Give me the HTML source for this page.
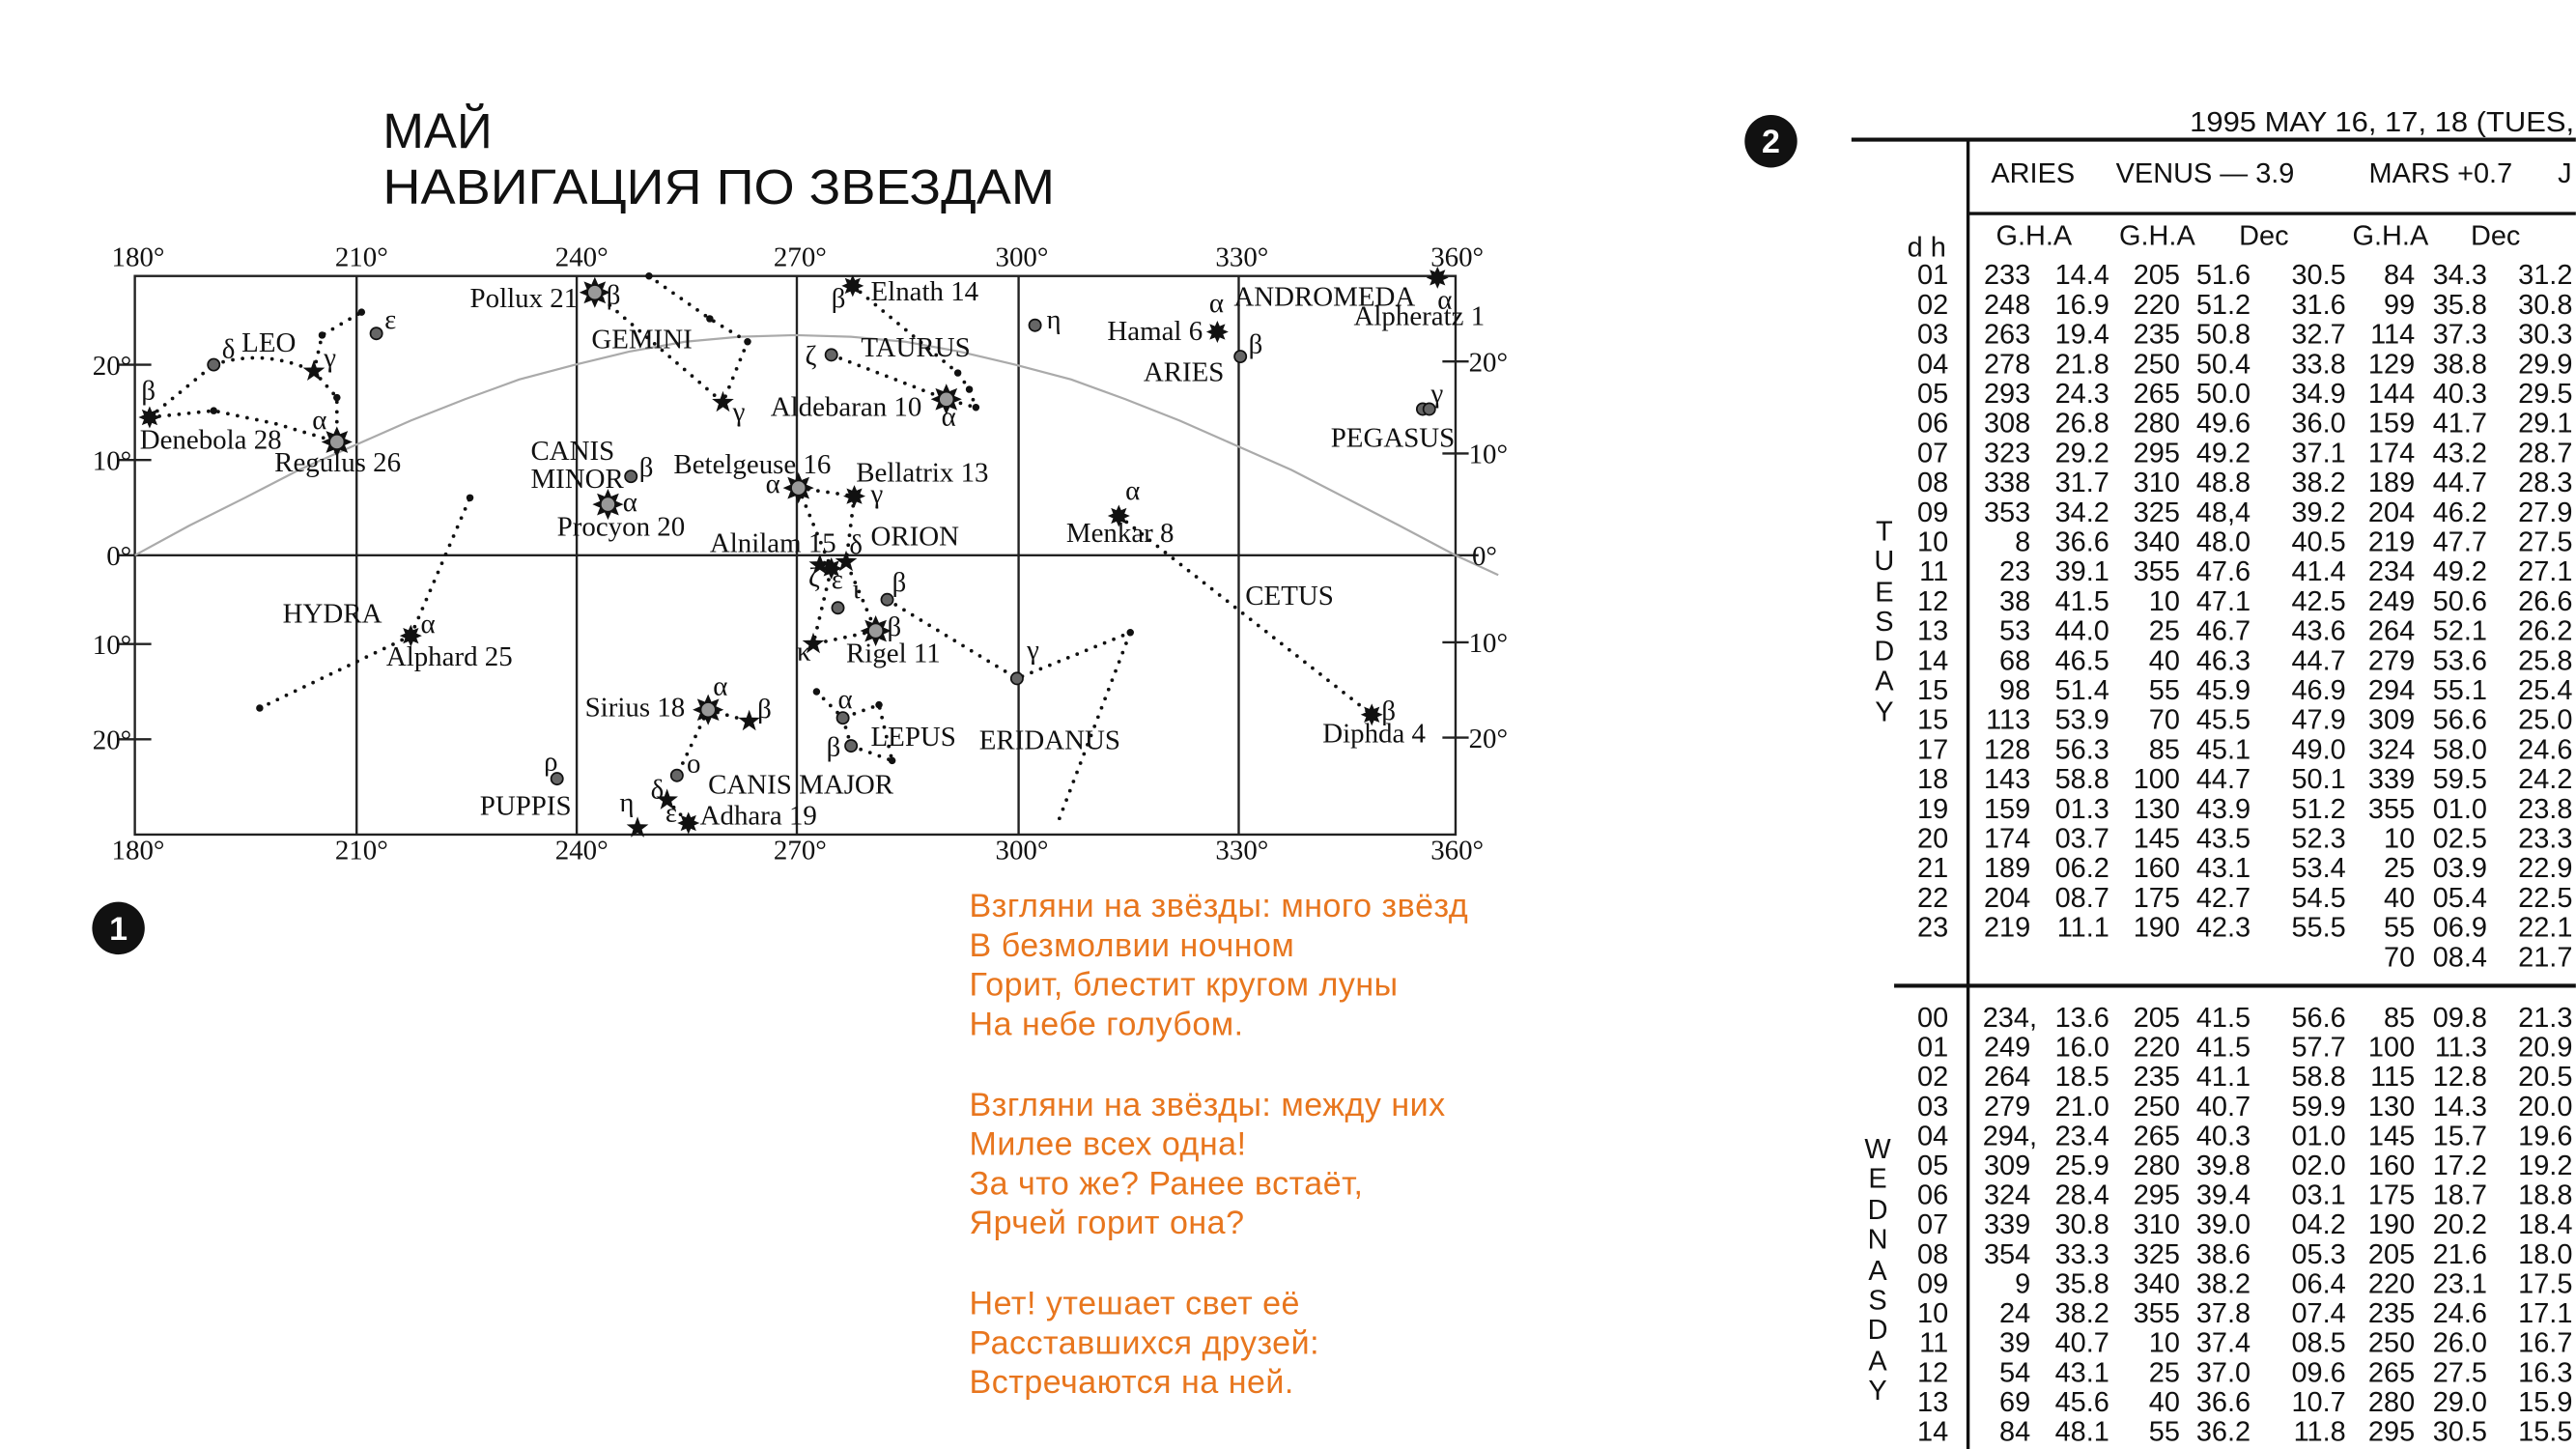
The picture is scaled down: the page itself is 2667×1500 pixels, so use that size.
<!DOCTYPE html>
<html><head><meta charset="utf-8"><style>
html,body{margin:0;padding:0;background:#fff;width:2667px;height:1500px;overflow:hidden}
svg{display:block}
.s{font-family:"Liberation Serif",serif;font-size:17px;fill:#111}
.t{font-family:"Liberation Sans","Noto Sans CJK SC",sans-serif;fill:#111}
.tb{font-family:"Liberation Sans",sans-serif;font-size:17px;fill:#111}
.p{font-family:"Liberation Sans","Noto Sans CJK SC",sans-serif;font-size:20px;letter-spacing:0.3px;fill:#E8761E}
.d{fill:none;stroke:#111;stroke-width:2.2;stroke-dasharray:0 6;stroke-linecap:round}
</style></head><body>
<svg width="2667" height="1500" viewBox="0 0 1568 882" xmlns="http://www.w3.org/2000/svg">
<defs>
<polygon id="s8" points="0,-9 1.91,-4.62 6.36,-6.36 4.62,-1.91 9,0 4.62,1.91 6.36,6.36 1.91,4.62 0,9 -1.91,4.62 -6.36,6.36 -4.62,1.91 -9,0 -4.62,-1.91 -6.36,-6.36 -1.91,-4.62"/>
<g id="big"><use href="#s8" fill="#111" transform="scale(1.05)"/><circle r="4" fill="#999"/></g>
<g id="blk"><use href="#s8" fill="#111" transform="scale(0.75)"/></g>
<polygon id="s5" fill="#111" points="0,-7 1.65,-2.27 6.66,-2.16 2.66,0.87 4.11,5.66 0,2.8 -4.11,5.66 -2.66,0.87 -6.66,-2.16 -1.65,-2.27"/>
<circle id="gd" r="3.6" fill="#666" stroke="#111" stroke-width="1"/>
<circle id="sd" r="2.2" fill="#111"/>
</defs>

<text class="t" x="233" y="90" font-size="30">МАЙ</text>
<text class="t" x="233" y="124" font-size="30" textLength="409" lengthAdjust="spacingAndGlyphs">НАВИГАЦИЯ ПО ЗВЕЗДАМ</text>

<g stroke="#222" stroke-width="1.4" fill="none">
<rect x="82" y="168" width="804" height="340"/>
<line x1="217" y1="168" x2="217" y2="508"/><line x1="351" y1="168" x2="351" y2="508"/>
<line x1="485" y1="168" x2="485" y2="508"/><line x1="620" y1="168" x2="620" y2="508"/>
<line x1="754" y1="168" x2="754" y2="508"/>
<line x1="72" y1="338" x2="900" y2="338"/>
<line x1="72" y1="222" x2="92" y2="222"/><line x1="72" y1="280" x2="92" y2="280"/>
<line x1="72" y1="392" x2="92" y2="392"/><line x1="72" y1="450" x2="92" y2="450"/>
<line x1="878" y1="220" x2="894" y2="220"/><line x1="878" y1="276" x2="894" y2="276"/>
<line x1="878" y1="391" x2="894" y2="391"/><line x1="878" y1="449" x2="894" y2="449"/>
</g>
<path d="M82,338 L115,320 149,303 182,286 216,271 250,256 283,243 316,231 350,222 383,214 417,208 450,205 484,204 518,205 551,208 584,214 618,222 652,231 685,243 718,256 752,271 786,286 819,303 852,320 886,338 912,350" fill="none" stroke="#aaa" stroke-width="1.3"/>

<g class="s" text-anchor="middle">
<text x="84" y="162">180°</text><text x="220" y="162">210°</text><text x="354" y="162">240°</text>
<text x="487" y="162">270°</text><text x="622" y="162">300°</text><text x="756" y="162">330°</text><text x="887" y="162">360°</text>
<text x="84" y="523">180°</text><text x="220" y="523">210°</text><text x="354" y="523">240°</text>
<text x="487" y="523">270°</text><text x="622" y="523">300°</text><text x="756" y="523">330°</text><text x="887" y="523">360°</text>
</g>
<g class="s" text-anchor="end">
<text x="80" y="228">20°</text><text x="80" y="286">10°</text><text x="80" y="344">0°</text>
<text x="80" y="398">10°</text><text x="80" y="456">20°</text>
</g>
<g class="s">
<text x="894" y="226">20°</text><text x="894" y="282">10°</text><text x="896" y="344">0°</text>
<text x="894" y="397">10°</text><text x="894" y="455">20°</text>
</g>

<g class="d">
<path d="M91,254 L130,222"/>
<path d="M130,222 Q160,212 191,226"/>
<path d="M191,226 L196,204 L220,190"/>
<path d="M191,226 L205,242 L205,269"/>
<path d="M91,254 L130,250 L168,258 L205,269"/>
<path d="M158,431 L250,387 L286,303"/>
<path d="M362,178 L440,245"/>
<path d="M395,168 L432,194 L455,208 L440,245"/>
<path d="M431,432 L456,439"/>
<path d="M431,432 L412,472"/>
<path d="M406,487 L419,501"/>
<path d="M519,174 L583,227 L590,237 L594,248"/>
<path d="M506,216 L576,243 L594,248"/>
<path d="M486,297 L520,302"/>
<path d="M486,297 L506,346 L495,392 L533,384"/>
<path d="M520,302 L515,342 L525,365 L533,384"/>
<path d="M540,365 L619,413 L688,385 L643,503"/>
<path d="M497,421 L513,437 L535,429 L543,463"/>
<path d="M513,437 L518,454 L543,463"/>
<path d="M681,314 L835,435"/>
</g>

<use href="#big" x="205" y="269"/><use href="#big" x="362" y="178"/><use href="#big" x="370" y="307"/>
<use href="#big" x="486" y="297"/><use href="#big" x="431" y="432"/><use href="#big" x="533" y="384"/>
<use href="#big" x="576" y="243"/>
<use href="#blk" x="91" y="254"/><use href="#blk" x="250" y="387"/><use href="#blk" x="419" y="501"/>
<use href="#blk" x="519" y="174"/><use href="#blk" x="520" y="302"/><use href="#blk" x="741" y="202"/>
<use href="#blk" x="875" y="169"/><use href="#blk" x="681" y="314"/><use href="#blk" x="835" y="435"/>
<use href="#blk" x="506" y="346"/>
<use href="#s5" x="191" y="226"/><use href="#s5" x="440" y="245"/><use href="#s5" x="456" y="439"/>
<use href="#s5" x="406" y="487"/><use href="#s5" x="388" y="504"/><use href="#s5" x="515" y="342"/>
<use href="#s5" x="495" y="392"/><use href="#s5" x="499" y="344"/>
<use href="#gd" x="130" y="222"/><use href="#gd" x="229" y="203"/><use href="#gd" x="384" y="290"/>
<use href="#gd" x="412" y="472"/><use href="#gd" x="339" y="474"/><use href="#gd" x="506" y="216"/>
<use href="#gd" x="630" y="198"/><use href="#gd" x="755" y="217"/><use href="#gd" x="866" y="249"/>
<use href="#gd" x="870" y="249"/><use href="#gd" x="540" y="365"/><use href="#gd" x="510" y="370"/>
<use href="#gd" x="513" y="437"/><use href="#gd" x="518" y="454"/><use href="#gd" x="619" y="413"/>
<g>
<use href="#sd" x="130" y="250"/><use href="#sd" x="196" y="204"/><use href="#sd" x="220" y="190"/>
<use href="#sd" x="205" y="242"/><use href="#sd" x="158" y="431"/><use href="#sd" x="286" y="303"/>
<use href="#sd" x="395" y="168"/><use href="#sd" x="432" y="194"/><use href="#sd" x="455" y="208"/>
<use href="#sd" x="583" y="227"/><use href="#sd" x="590" y="237"/><use href="#sd" x="594" y="248"/>
<use href="#sd" x="497" y="421"/><use href="#sd" x="535" y="429"/><use href="#sd" x="543" y="463"/>
<use href="#sd" x="688" y="385"/>
</g>

<g class="s">
<text x="86" y="243">β</text><text x="135" y="218">δ</text><text x="147" y="214">LEO</text>
<text x="234" y="200">ε</text><text x="197" y="223">γ</text><text x="190" y="261">α</text>
<text x="85" y="273">Denebola 28</text><text x="167" y="287">Regulus 26</text>
<text x="172" y="379">HYDRA</text><text x="256" y="385">α</text><text x="235" y="405">Alphard 25</text>
<text x="286" y="187">Pollux 21</text><text x="369" y="185">β</text><text x="360" y="212">GEMINI</text><text x="446" y="256">γ</text>
<text x="323" y="280">CANIS</text><text x="323" y="297">MINOR</text><text x="389" y="290">β</text>
<text x="379" y="311">α</text><text x="339" y="326">Procyon 20</text>
<text x="410" y="288">Betelgeuse 16</text><text x="466" y="300">α</text><text x="432" y="336">Alnilam 15</text>
<text x="517" y="337">δ</text><text x="492" y="357">ζ</text><text x="506" y="358">ε</text><text x="519" y="364">ι</text>
<text x="485" y="402">κ</text>
<text x="530" y="183">Elnath 14</text><text x="506" y="187">β</text><text x="524" y="217">TAURUS</text>
<text x="490" y="222">ζ</text><text x="469" y="253">Aldebaran 10</text><text x="573" y="259">α</text>
<text x="521" y="293">Bellatrix 13</text><text x="530" y="306">γ</text><text x="530" y="332">ORION</text>
<text x="543" y="360">β</text><text x="540" y="387">β</text><text x="515" y="403">Rigel 11</text>
<text x="510" y="431">α</text><text x="503" y="460">β</text><text x="530" y="454">LEPUS</text>
<text x="596" y="456">ERIDANUS</text><text x="625" y="401">γ</text>
<text x="356" y="436">Sirius 18</text><text x="434" y="423">α</text><text x="461" y="437">β</text>
<text x="418" y="470">ο</text><text x="431" y="483">CANIS MAJOR</text><text x="396" y="486">δ</text>
<text x="405" y="500">ε</text><text x="426" y="502">Adhara 19</text><text x="377" y="494">η</text>
<text x="331" y="469">ρ</text><text x="292" y="496">PUPPIS</text>
<text x="637" y="200">η</text><text x="674" y="207">Hamal 6</text><text x="736" y="190">α</text>
<text x="751" y="186">ANDROMEDA</text><text x="875" y="188">α</text><text x="824" y="198">Alpheratz 1</text>
<text x="760" y="215">β</text><text x="696" y="232">ARIES</text><text x="871" y="245">γ</text><text x="810" y="272">PEGASUS</text>
<text x="685" y="304">α</text><text x="649" y="330">Menkar 8</text><text x="758" y="368">CETUS</text>
<text x="841" y="438">β</text><text x="805" y="452">Diphda 4</text>
</g>

<circle cx="72" cy="565" r="16" fill="#111"/>
<text x="72" y="572" text-anchor="middle" font-family="Liberation Sans,sans-serif" font-weight="bold" font-size="20" fill="#fff">1</text>
<circle cx="1078" cy="86" r="16" fill="#111"/>
<text x="1078" y="93" text-anchor="middle" font-family="Liberation Sans,sans-serif" font-weight="bold" font-size="20" fill="#fff">2</text>

<g class="p">
<text x="590" y="558">Взгляни на звёзды: много звёзд</text>
<text x="590" y="582">В безмолвии ночном</text>
<text x="590" y="606">Горит, блестит кругом луны</text>
<text x="590" y="630">На небе голубом.</text>
<text x="590" y="679">Взгляни на звёзды: между них</text>
<text x="590" y="703">Милее всех одна!</text>
<text x="590" y="727">За что же? Ранее встаёт,</text>
<text x="590" y="751">Ярчей горит она?</text>
<text x="590" y="800">Нет! утешает свет её</text>
<text x="590" y="824">Расставшихся друзей:</text>
<text x="590" y="848">Встречаются на ней.</text>
</g>

<text class="tb" x="1333" y="80" font-size="18" textLength="234" lengthAdjust="spacingAndGlyphs">1995 MAY 16, 17, 18 (TUES,</text>
<g stroke="#111" fill="none">
<line x1="1127" y1="85" x2="1568" y2="85" stroke-width="2.4"/>
<line x1="1198" y1="85" x2="1198" y2="882" stroke-width="2"/>
<line x1="1198" y1="130" x2="1568" y2="130" stroke-width="2"/>
<line x1="1153" y1="600" x2="1568" y2="600" stroke-width="2.4"/>
</g>
<g class="tb">
<text x="1212" y="111">ARIES</text><text x="1288" y="111">VENUS — 3.9</text>
<text x="1442" y="111">MARS +0.7</text><text x="1557" y="111">J</text>
<text x="1215" y="149">G.H.A</text><text x="1290" y="149">G.H.A</text><text x="1363" y="149">Dec</text>
<text x="1432" y="149">G.H.A</text><text x="1504" y="149">Dec</text>
<text x="1161" y="156">d h</text>
</g>
<g class="tb" text-anchor="middle">
<text x="1147" y="329">T</text><text x="1147" y="347">U</text><text x="1147" y="366">E</text><text x="1147" y="384">S</text>
<text x="1147" y="402">D</text><text x="1147" y="420">A</text><text x="1147" y="439">Y</text>
<text x="1143" y="705">W</text><text x="1143" y="723">E</text><text x="1143" y="742">D</text><text x="1143" y="760">N</text>
<text x="1143" y="779">A</text><text x="1143" y="797">S</text><text x="1143" y="815">D</text><text x="1143" y="834">A</text><text x="1143" y="852">Y</text>
</g>

<g class="tb" text-anchor="end">
<text y="173"><tspan x="1186">01</tspan><tspan x="1186" dy="18.05">02</tspan><tspan x="1186" dy="18.05">03</tspan><tspan x="1186" dy="18.05">04</tspan><tspan x="1186" dy="18.05">05</tspan><tspan x="1186" dy="18.05">06</tspan><tspan x="1186" dy="18.05">07</tspan><tspan x="1186" dy="18.05">08</tspan><tspan x="1186" dy="18.05">09</tspan><tspan x="1186" dy="18.05">10</tspan><tspan x="1186" dy="18.05">11</tspan><tspan x="1186" dy="18.05">12</tspan><tspan x="1186" dy="18.05">13</tspan><tspan x="1186" dy="18.05">14</tspan><tspan x="1186" dy="18.05">15</tspan><tspan x="1186" dy="18.05">15</tspan><tspan x="1186" dy="18.05">17</tspan><tspan x="1186" dy="18.05">18</tspan><tspan x="1186" dy="18.05">19</tspan><tspan x="1186" dy="18.05">20</tspan><tspan x="1186" dy="18.05">21</tspan><tspan x="1186" dy="18.05">22</tspan><tspan x="1186" dy="18.05">23</tspan></text>
<text y="173"><tspan x="1236">233</tspan><tspan x="1236" dy="18.05">248</tspan><tspan x="1236" dy="18.05">263</tspan><tspan x="1236" dy="18.05">278</tspan><tspan x="1236" dy="18.05">293</tspan><tspan x="1236" dy="18.05">308</tspan><tspan x="1236" dy="18.05">323</tspan><tspan x="1236" dy="18.05">338</tspan><tspan x="1236" dy="18.05">353</tspan><tspan x="1236" dy="18.05">8</tspan><tspan x="1236" dy="18.05">23</tspan><tspan x="1236" dy="18.05">38</tspan><tspan x="1236" dy="18.05">53</tspan><tspan x="1236" dy="18.05">68</tspan><tspan x="1236" dy="18.05">98</tspan><tspan x="1236" dy="18.05">113</tspan><tspan x="1236" dy="18.05">128</tspan><tspan x="1236" dy="18.05">143</tspan><tspan x="1236" dy="18.05">159</tspan><tspan x="1236" dy="18.05">174</tspan><tspan x="1236" dy="18.05">189</tspan><tspan x="1236" dy="18.05">204</tspan><tspan x="1236" dy="18.05">219</tspan></text>
<text y="173"><tspan x="1284">14.4</tspan><tspan x="1284" dy="18.05">16.9</tspan><tspan x="1284" dy="18.05">19.4</tspan><tspan x="1284" dy="18.05">21.8</tspan><tspan x="1284" dy="18.05">24.3</tspan><tspan x="1284" dy="18.05">26.8</tspan><tspan x="1284" dy="18.05">29.2</tspan><tspan x="1284" dy="18.05">31.7</tspan><tspan x="1284" dy="18.05">34.2</tspan><tspan x="1284" dy="18.05">36.6</tspan><tspan x="1284" dy="18.05">39.1</tspan><tspan x="1284" dy="18.05">41.5</tspan><tspan x="1284" dy="18.05">44.0</tspan><tspan x="1284" dy="18.05">46.5</tspan><tspan x="1284" dy="18.05">51.4</tspan><tspan x="1284" dy="18.05">53.9</tspan><tspan x="1284" dy="18.05">56.3</tspan><tspan x="1284" dy="18.05">58.8</tspan><tspan x="1284" dy="18.05">01.3</tspan><tspan x="1284" dy="18.05">03.7</tspan><tspan x="1284" dy="18.05">06.2</tspan><tspan x="1284" dy="18.05">08.7</tspan><tspan x="1284" dy="18.05">11.1</tspan></text>
<text y="173"><tspan x="1327">205</tspan><tspan x="1327" dy="18.05">220</tspan><tspan x="1327" dy="18.05">235</tspan><tspan x="1327" dy="18.05">250</tspan><tspan x="1327" dy="18.05">265</tspan><tspan x="1327" dy="18.05">280</tspan><tspan x="1327" dy="18.05">295</tspan><tspan x="1327" dy="18.05">310</tspan><tspan x="1327" dy="18.05">325</tspan><tspan x="1327" dy="18.05">340</tspan><tspan x="1327" dy="18.05">355</tspan><tspan x="1327" dy="18.05">10</tspan><tspan x="1327" dy="18.05">25</tspan><tspan x="1327" dy="18.05">40</tspan><tspan x="1327" dy="18.05">55</tspan><tspan x="1327" dy="18.05">70</tspan><tspan x="1327" dy="18.05">85</tspan><tspan x="1327" dy="18.05">100</tspan><tspan x="1327" dy="18.05">130</tspan><tspan x="1327" dy="18.05">145</tspan><tspan x="1327" dy="18.05">160</tspan><tspan x="1327" dy="18.05">175</tspan><tspan x="1327" dy="18.05">190</tspan></text>
<text y="173"><tspan x="1370">51.6</tspan><tspan x="1370" dy="18.05">51.2</tspan><tspan x="1370" dy="18.05">50.8</tspan><tspan x="1370" dy="18.05">50.4</tspan><tspan x="1370" dy="18.05">50.0</tspan><tspan x="1370" dy="18.05">49.6</tspan><tspan x="1370" dy="18.05">49.2</tspan><tspan x="1370" dy="18.05">48.8</tspan><tspan x="1370" dy="18.05">48,4</tspan><tspan x="1370" dy="18.05">48.0</tspan><tspan x="1370" dy="18.05">47.6</tspan><tspan x="1370" dy="18.05">47.1</tspan><tspan x="1370" dy="18.05">46.7</tspan><tspan x="1370" dy="18.05">46.3</tspan><tspan x="1370" dy="18.05">45.9</tspan><tspan x="1370" dy="18.05">45.5</tspan><tspan x="1370" dy="18.05">45.1</tspan><tspan x="1370" dy="18.05">44.7</tspan><tspan x="1370" dy="18.05">43.9</tspan><tspan x="1370" dy="18.05">43.5</tspan><tspan x="1370" dy="18.05">43.1</tspan><tspan x="1370" dy="18.05">42.7</tspan><tspan x="1370" dy="18.05">42.3</tspan></text>
<text y="173"><tspan x="1428">30.5</tspan><tspan x="1428" dy="18.05">31.6</tspan><tspan x="1428" dy="18.05">32.7</tspan><tspan x="1428" dy="18.05">33.8</tspan><tspan x="1428" dy="18.05">34.9</tspan><tspan x="1428" dy="18.05">36.0</tspan><tspan x="1428" dy="18.05">37.1</tspan><tspan x="1428" dy="18.05">38.2</tspan><tspan x="1428" dy="18.05">39.2</tspan><tspan x="1428" dy="18.05">40.5</tspan><tspan x="1428" dy="18.05">41.4</tspan><tspan x="1428" dy="18.05">42.5</tspan><tspan x="1428" dy="18.05">43.6</tspan><tspan x="1428" dy="18.05">44.7</tspan><tspan x="1428" dy="18.05">46.9</tspan><tspan x="1428" dy="18.05">47.9</tspan><tspan x="1428" dy="18.05">49.0</tspan><tspan x="1428" dy="18.05">50.1</tspan><tspan x="1428" dy="18.05">51.2</tspan><tspan x="1428" dy="18.05">52.3</tspan><tspan x="1428" dy="18.05">53.4</tspan><tspan x="1428" dy="18.05">54.5</tspan><tspan x="1428" dy="18.05">55.5</tspan></text>
<text y="173"><tspan x="1470">84</tspan><tspan x="1470" dy="18.05">99</tspan><tspan x="1470" dy="18.05">114</tspan><tspan x="1470" dy="18.05">129</tspan><tspan x="1470" dy="18.05">144</tspan><tspan x="1470" dy="18.05">159</tspan><tspan x="1470" dy="18.05">174</tspan><tspan x="1470" dy="18.05">189</tspan><tspan x="1470" dy="18.05">204</tspan><tspan x="1470" dy="18.05">219</tspan><tspan x="1470" dy="18.05">234</tspan><tspan x="1470" dy="18.05">249</tspan><tspan x="1470" dy="18.05">264</tspan><tspan x="1470" dy="18.05">279</tspan><tspan x="1470" dy="18.05">294</tspan><tspan x="1470" dy="18.05">309</tspan><tspan x="1470" dy="18.05">324</tspan><tspan x="1470" dy="18.05">339</tspan><tspan x="1470" dy="18.05">355</tspan><tspan x="1470" dy="18.05">10</tspan><tspan x="1470" dy="18.05">25</tspan><tspan x="1470" dy="18.05">40</tspan><tspan x="1470" dy="18.05">55</tspan><tspan x="1470" dy="18.05">70</tspan></text>
<text y="173"><tspan x="1514">34.3</tspan><tspan x="1514" dy="18.05">35.8</tspan><tspan x="1514" dy="18.05">37.3</tspan><tspan x="1514" dy="18.05">38.8</tspan><tspan x="1514" dy="18.05">40.3</tspan><tspan x="1514" dy="18.05">41.7</tspan><tspan x="1514" dy="18.05">43.2</tspan><tspan x="1514" dy="18.05">44.7</tspan><tspan x="1514" dy="18.05">46.2</tspan><tspan x="1514" dy="18.05">47.7</tspan><tspan x="1514" dy="18.05">49.2</tspan><tspan x="1514" dy="18.05">50.6</tspan><tspan x="1514" dy="18.05">52.1</tspan><tspan x="1514" dy="18.05">53.6</tspan><tspan x="1514" dy="18.05">55.1</tspan><tspan x="1514" dy="18.05">56.6</tspan><tspan x="1514" dy="18.05">58.0</tspan><tspan x="1514" dy="18.05">59.5</tspan><tspan x="1514" dy="18.05">01.0</tspan><tspan x="1514" dy="18.05">02.5</tspan><tspan x="1514" dy="18.05">03.9</tspan><tspan x="1514" dy="18.05">05.4</tspan><tspan x="1514" dy="18.05">06.9</tspan><tspan x="1514" dy="18.05">08.4</tspan></text>
<text y="173"><tspan x="1566">31.2</tspan><tspan x="1566" dy="18.05">30.8</tspan><tspan x="1566" dy="18.05">30.3</tspan><tspan x="1566" dy="18.05">29.9</tspan><tspan x="1566" dy="18.05">29.5</tspan><tspan x="1566" dy="18.05">29.1</tspan><tspan x="1566" dy="18.05">28.7</tspan><tspan x="1566" dy="18.05">28.3</tspan><tspan x="1566" dy="18.05">27.9</tspan><tspan x="1566" dy="18.05">27.5</tspan><tspan x="1566" dy="18.05">27.1</tspan><tspan x="1566" dy="18.05">26.6</tspan><tspan x="1566" dy="18.05">26.2</tspan><tspan x="1566" dy="18.05">25.8</tspan><tspan x="1566" dy="18.05">25.4</tspan><tspan x="1566" dy="18.05">25.0</tspan><tspan x="1566" dy="18.05">24.6</tspan><tspan x="1566" dy="18.05">24.2</tspan><tspan x="1566" dy="18.05">23.8</tspan><tspan x="1566" dy="18.05">23.3</tspan><tspan x="1566" dy="18.05">22.9</tspan><tspan x="1566" dy="18.05">22.5</tspan><tspan x="1566" dy="18.05">22.1</tspan><tspan x="1566" dy="18.05">21.7</tspan></text>

<text y="625"><tspan x="1186">00</tspan><tspan x="1186" dy="18">01</tspan><tspan x="1186" dy="18">02</tspan><tspan x="1186" dy="18">03</tspan><tspan x="1186" dy="18">04</tspan><tspan x="1186" dy="18">05</tspan><tspan x="1186" dy="18">06</tspan><tspan x="1186" dy="18">07</tspan><tspan x="1186" dy="18">08</tspan><tspan x="1186" dy="18">09</tspan><tspan x="1186" dy="18">10</tspan><tspan x="1186" dy="18">11</tspan><tspan x="1186" dy="18">12</tspan><tspan x="1186" dy="18">13</tspan><tspan x="1186" dy="18">14</tspan></text>
<text y="625"><tspan x="1240">234,</tspan><tspan x="1236" dy="18">249</tspan><tspan x="1236" dy="18">264</tspan><tspan x="1236" dy="18">279</tspan><tspan x="1240" dy="18">294,</tspan><tspan x="1236" dy="18">309</tspan><tspan x="1236" dy="18">324</tspan><tspan x="1236" dy="18">339</tspan><tspan x="1236" dy="18">354</tspan><tspan x="1236" dy="18">9</tspan><tspan x="1236" dy="18">24</tspan><tspan x="1236" dy="18">39</tspan><tspan x="1236" dy="18">54</tspan><tspan x="1236" dy="18">69</tspan><tspan x="1236" dy="18">84</tspan></text>
<text y="625"><tspan x="1284">13.6</tspan><tspan x="1284" dy="18">16.0</tspan><tspan x="1284" dy="18">18.5</tspan><tspan x="1284" dy="18">21.0</tspan><tspan x="1284" dy="18">23.4</tspan><tspan x="1284" dy="18">25.9</tspan><tspan x="1284" dy="18">28.4</tspan><tspan x="1284" dy="18">30.8</tspan><tspan x="1284" dy="18">33.3</tspan><tspan x="1284" dy="18">35.8</tspan><tspan x="1284" dy="18">38.2</tspan><tspan x="1284" dy="18">40.7</tspan><tspan x="1284" dy="18">43.1</tspan><tspan x="1284" dy="18">45.6</tspan><tspan x="1284" dy="18">48.1</tspan></text>
<text y="625"><tspan x="1327">205</tspan><tspan x="1327" dy="18">220</tspan><tspan x="1327" dy="18">235</tspan><tspan x="1327" dy="18">250</tspan><tspan x="1327" dy="18">265</tspan><tspan x="1327" dy="18">280</tspan><tspan x="1327" dy="18">295</tspan><tspan x="1327" dy="18">310</tspan><tspan x="1327" dy="18">325</tspan><tspan x="1327" dy="18">340</tspan><tspan x="1327" dy="18">355</tspan><tspan x="1327" dy="18">10</tspan><tspan x="1327" dy="18">25</tspan><tspan x="1327" dy="18">40</tspan><tspan x="1327" dy="18">55</tspan></text>
<text y="625"><tspan x="1370">41.5</tspan><tspan x="1370" dy="18">41.5</tspan><tspan x="1370" dy="18">41.1</tspan><tspan x="1370" dy="18">40.7</tspan><tspan x="1370" dy="18">40.3</tspan><tspan x="1370" dy="18">39.8</tspan><tspan x="1370" dy="18">39.4</tspan><tspan x="1370" dy="18">39.0</tspan><tspan x="1370" dy="18">38.6</tspan><tspan x="1370" dy="18">38.2</tspan><tspan x="1370" dy="18">37.8</tspan><tspan x="1370" dy="18">37.4</tspan><tspan x="1370" dy="18">37.0</tspan><tspan x="1370" dy="18">36.6</tspan><tspan x="1370" dy="18">36.2</tspan></text>
<text y="625"><tspan x="1428">56.6</tspan><tspan x="1428" dy="18">57.7</tspan><tspan x="1428" dy="18">58.8</tspan><tspan x="1428" dy="18">59.9</tspan><tspan x="1428" dy="18">01.0</tspan><tspan x="1428" dy="18">02.0</tspan><tspan x="1428" dy="18">03.1</tspan><tspan x="1428" dy="18">04.2</tspan><tspan x="1428" dy="18">05.3</tspan><tspan x="1428" dy="18">06.4</tspan><tspan x="1428" dy="18">07.4</tspan><tspan x="1428" dy="18">08.5</tspan><tspan x="1428" dy="18">09.6</tspan><tspan x="1428" dy="18">10.7</tspan><tspan x="1428" dy="18">11.8</tspan></text>
<text y="625"><tspan x="1470">85</tspan><tspan x="1470" dy="18">100</tspan><tspan x="1470" dy="18">115</tspan><tspan x="1470" dy="18">130</tspan><tspan x="1470" dy="18">145</tspan><tspan x="1470" dy="18">160</tspan><tspan x="1470" dy="18">175</tspan><tspan x="1470" dy="18">190</tspan><tspan x="1470" dy="18">205</tspan><tspan x="1470" dy="18">220</tspan><tspan x="1470" dy="18">235</tspan><tspan x="1470" dy="18">250</tspan><tspan x="1470" dy="18">265</tspan><tspan x="1470" dy="18">280</tspan><tspan x="1470" dy="18">295</tspan></text>
<text y="625"><tspan x="1514">09.8</tspan><tspan x="1514" dy="18">11.3</tspan><tspan x="1514" dy="18">12.8</tspan><tspan x="1514" dy="18">14.3</tspan><tspan x="1514" dy="18">15.7</tspan><tspan x="1514" dy="18">17.2</tspan><tspan x="1514" dy="18">18.7</tspan><tspan x="1514" dy="18">20.2</tspan><tspan x="1514" dy="18">21.6</tspan><tspan x="1514" dy="18">23.1</tspan><tspan x="1514" dy="18">24.6</tspan><tspan x="1514" dy="18">26.0</tspan><tspan x="1514" dy="18">27.5</tspan><tspan x="1514" dy="18">29.0</tspan><tspan x="1514" dy="18">30.5</tspan></text>
<text y="625"><tspan x="1566">21.3</tspan><tspan x="1566" dy="18">20.9</tspan><tspan x="1566" dy="18">20.5</tspan><tspan x="1566" dy="18">20.0</tspan><tspan x="1566" dy="18">19.6</tspan><tspan x="1566" dy="18">19.2</tspan><tspan x="1566" dy="18">18.8</tspan><tspan x="1566" dy="18">18.4</tspan><tspan x="1566" dy="18">18.0</tspan><tspan x="1566" dy="18">17.5</tspan><tspan x="1566" dy="18">17.1</tspan><tspan x="1566" dy="18">16.7</tspan><tspan x="1566" dy="18">16.3</tspan><tspan x="1566" dy="18">15.9</tspan><tspan x="1566" dy="18">15.5</tspan></text>
</g>
</svg>
</body></html>
